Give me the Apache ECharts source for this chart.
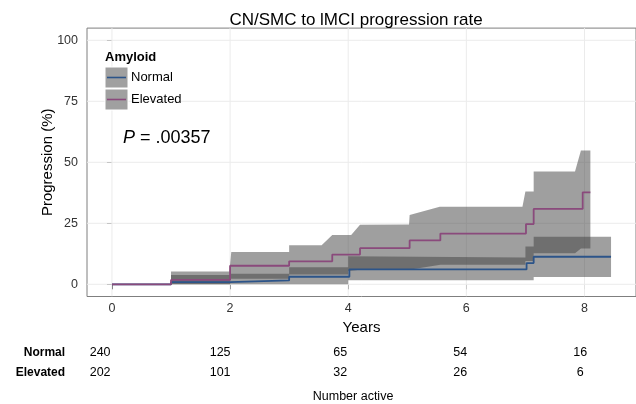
<!DOCTYPE html>
<html>
<head>
<meta charset="utf-8">
<script src="https://cdn.jsdelivr.net/npm/echarts@6/dist/echarts.min.js"></script>
<style>html,body{margin:0;padding:0;background:#fff}#c{width:636px;height:404px}</style>
</head>
<body>
<div id="c"></div>
<script>
// ---------- data ----------
const xTicks = [0, 2, 4, 6, 8];
const yTicks = [0, 25, 50, 75, 100];
const groups = ['Normal', 'Elevated'];

const normalTimes = [0, 1.0, 2.0, 3.0, 4.02, 7.02, 7.14, 8.45];
const normalRate  = [0, 0.9, 1.6, 3.1, 6.1, 8.7, 11.3, 11.3];
const elevTimes   = [0, 1.0, 2.0, 3.0, 3.73, 4.2, 5.04, 5.56, 7.01, 7.14, 7.97, 8.10];
const elevRate    = [0, 1.8, 7.6, 9.4, 12.2, 14.8, 18.0, 20.8, 24.7, 30.9, 37.7, 37.7];

const normalUpper = [[0,0],[1.0,0],[1.0,3.8],[2.0,3.8],[2.0,4.3],[3.0,4.3],[3.0,7.0],[4.0,7.0],[4.0,11.5],[7.0,11.0],[7.0,15.5],[7.14,15.5],[7.14,19.5],[8.45,19.5]];
const normalLower = [[0,0],[4.0,0],[4.0,1.7],[7.14,1.7],[7.14,3.0],[8.45,3.0]];
const elevUpper = [[0,0],[1.0,0],[1.0,5.2],[1.99,5.2],[2.02,13.2],[3.0,13.2],[3.0,16.0],[3.55,16.0],[3.73,20.2],[4.05,20.2],[4.2,24.4],[5.03,24.5],[5.04,28.4],[5.55,31.8],[6.95,31.8],[7.0,38.0],[7.14,38.0],[7.14,46.2],[7.84,46.2],[7.94,54.8],[8.10,54.8]];
const elevLower = [[0,0],[2.0,0],[2.0,2.3],[3.0,2.3],[3.0,4.0],[4.0,4.0],[4.0,5.5],[4.2,6.0],[5.03,6.0],[5.56,8.0],[7.0,8.0],[7.0,9.5],[7.14,9.5],[7.14,12.7],[7.84,12.7],[7.94,14.7],[8.10,14.7]];

const riskYears = [0, 2, 4, 6, 8];
const riskNormal = [240, 125, 65, 54, 16];
const riskElevated = [202, 101, 32, 26, 6];

const pText = '.00357';

// ---------- styling ----------
const FONT = '"Liberation Sans", Arial, sans-serif';
const colNormal = '#2c5489';
const colElev = '#8a4a7c';

function bandSeries(name, upper, lower) {
  return {
    type: 'custom', name: name, xAxisIndex: 0, yAxisIndex: 0, z: 2, silent: true,
    clip: true,
    data: [[0, 0]],
    renderItem: function (params, api) {
      const pts = upper.map(p => api.coord(p)).concat(lower.slice().reverse().map(p => api.coord(p)));
      return { type: 'polygon', shape: { points: pts }, style: { fill: '#404040', opacity: 0.5 } };
    }
  };
}

const riskData = [];
riskYears.forEach((y, i) => {
  riskData.push([y, 0, riskNormal[i]]);
  riskData.push([y, 1, riskElevated[i]]);
});

// grid lines: [orientation (0 = vertical at x, 1 = horizontal at y), value]
const gridData = xTicks.map(v => [0, v]).concat(yTicks.map(v => [1, v]));

const chart = echarts.init(document.getElementById('c'), null, { renderer: 'canvas' });
chart.setOption({
  animation: false,
  textStyle: { fontFamily: FONT },
  title: {
    text: 'CN/SMC to lMCI progression rate',
    left: 351, top: 7, textAlign: 'center',
    textStyle: { fontSize: 17, fontWeight: 'normal', color: '#000', fontFamily: FONT }
  },
  grid: [
    { left: 87, top: 28.1, width: 551, height: 268.4, show: true, borderColor: '#7f7f7f', borderWidth: 1, backgroundColor: '#fff' },
    { left: 70.1, top: 343, width: 575, height: 40 }
  ],
  xAxis: [
    {
      type: 'value', gridIndex: 0, min: -0.4225, max: 8.8725,
      name: 'Years', nameLocation: 'middle', nameGap: 22,
      nameTextStyle: { fontSize: 15, color: '#000', fontFamily: FONT },
      axisLine: { show: false },
      splitLine: { show: false },
      axisTick: { show: true, customValues: xTicks, length: 5, lineStyle: { color: '#333' } },
      axisLabel: { customValues: xTicks, fontSize: 12.5, color: '#333', margin: 6, fontFamily: FONT }
    },
    {
      type: 'value', gridIndex: 1, min: -0.5, max: 8.93,
      name: 'Number active', nameLocation: 'middle', nameGap: 8,
      nameTextStyle: { fontSize: 12.5, color: '#000', fontFamily: FONT },
      axisLine: { show: false }, axisTick: { show: false }, axisLabel: { show: false }, splitLine: { show: false }
    }
  ],
  yAxis: [
    {
      type: 'value', gridIndex: 0, min: -5, max: 105,
      name: 'Progression (%)', nameLocation: 'middle', nameGap: 32, nameRotate: 90,
      nameMoveOverlap: false,
      nameTextStyle: { fontSize: 15, color: '#000', fontFamily: FONT },
      axisLine: { show: false },
      splitLine: { show: false },
      axisTick: { show: true, customValues: yTicks, length: 5, lineStyle: { color: '#333' } },
      axisLabel: { customValues: yTicks, fontSize: 12.5, color: '#333', margin: 9, fontFamily: FONT }
    },
    {
      type: 'category', gridIndex: 1, data: groups, inverse: true,
      axisLine: { show: false }, axisTick: { show: false }, splitLine: { show: false },
      axisLabel: { fontSize: 12, fontWeight: 'bold', color: '#000', margin: 5, fontFamily: FONT }
    }
  ],
  series: [
    {
      type: 'custom', xAxisIndex: 0, yAxisIndex: 0, z: 1, silent: true, clip: true,
      data: gridData,
      renderItem: function (params, api) {
        const cs = params.coordSys;
        const isH = api.value(0) === 1;
        const v = api.value(1);
        let shape;
        if (isH) {
          const p = api.coord([0, v]);
          shape = { x1: cs.x, y1: p[1], x2: cs.x + cs.width, y2: p[1] };
        } else {
          const p = api.coord([v, 0]);
          shape = { x1: p[0], y1: cs.y, x2: p[0], y2: cs.y + cs.height };
        }
        return { type: 'line', shape: shape, style: { stroke: '#ebebeb', lineWidth: 1 } };
      }
    },
    bandSeries('Normal band', normalUpper, normalLower),
    bandSeries('Elevated band', elevUpper, elevLower),
    {
      type: 'line', name: 'Normal', xAxisIndex: 0, yAxisIndex: 0, step: 'end', symbol: 'none', z: 3,
      lineStyle: { color: colNormal, width: 1.8 },
      data: normalTimes.map((t, i) => [t, normalRate[i]])
    },
    {
      type: 'line', name: 'Elevated', xAxisIndex: 0, yAxisIndex: 0, step: 'end', symbol: 'none', z: 3,
      lineStyle: { color: colElev, width: 1.8 },
      data: elevTimes.map((t, i) => [t, elevRate[i]])
    },
    {
      type: 'custom', xAxisIndex: 1, yAxisIndex: 1, silent: true,
      data: riskData,
      renderItem: function (params, api) {
        const p = api.coord([api.value(0), api.value(1)]);
        return {
          type: 'text', x: p[0], y: p[1],
          style: { text: String(api.value(2)), align: 'center', verticalAlign: 'middle', fontSize: 12.5, fill: '#000', fontFamily: FONT }
        };
      }
    }
  ],
  graphic: [
    { type: 'text', z: 10, left: 105, top: 51, style: { text: 'Amyloid', fontSize: 13, fontWeight: 'bold', fill: '#000', fontFamily: FONT } },
    { type: 'rect', z: 10, shape: { x: 105, y: 67, width: 23, height: 21 }, style: { fill: '#a0a0a0', stroke: '#fff', lineWidth: 1 } },
    { type: 'rect', z: 10, shape: { x: 105, y: 89, width: 23, height: 21 }, style: { fill: '#a0a0a0', stroke: '#fff', lineWidth: 1 } },
    { type: 'line', z: 11, shape: { x1: 107, y1: 77.5, x2: 126, y2: 77.5 }, style: { stroke: colNormal, lineWidth: 1.6 } },
    { type: 'line', z: 11, shape: { x1: 107, y1: 99.5, x2: 126, y2: 99.5 }, style: { stroke: colElev, lineWidth: 1.6 } },
    { type: 'text', z: 10, left: 131, top: 71, style: { text: groups[0], fontSize: 13, fill: '#000', fontFamily: FONT } },
    { type: 'text', z: 10, left: 131, top: 93, style: { text: groups[1], fontSize: 13, fill: '#000', fontFamily: FONT } },
    { type: 'text', z: 10, left: 123, top: 129, style: {
        rich: { i: { fontStyle: 'italic', fontSize: 18, fontFamily: FONT, fill: '#000' }, n: { fontSize: 18, fontFamily: FONT, fill: '#000' } },
        text: '{i|P}{n| = ' + pText + '}' } }
  ]
});
</script>
</body>
</html>
